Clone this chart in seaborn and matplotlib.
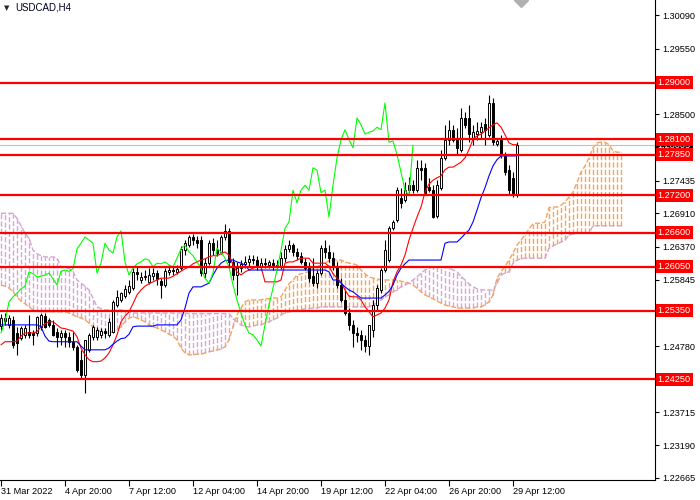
import numpy as np
import pandas as pd
import seaborn as sns
import matplotlib.pyplot as plt
import matplotlib.transforms as mtransforms

sns.set_theme(style="white")
plt.rcParams['font.family'] = ['Liberation Sans', 'DejaVu Sans']

symbol = "USDCAD,H4"

# one label every 16 H4 bars
time_labels = ["31 Mar 2022", "4 Apr 20:00", "7 Apr 12:00", "12 Apr 04:00", "14 Apr 20:00",
               "19 Apr 12:00", "22 Apr 04:00", "26 Apr 20:00", "29 Apr 12:00"]
label_bars = [0, 16, 32, 48, 64, 80, 96, 112, 128]

opens = [1.2510, 1.2523, 1.2512, 1.2520, 1.2499, 1.2491, 1.2496, 1.2501, 1.2499, 1.2499,
         1.2509, 1.2526, 1.2520, 1.2512, 1.2501, 1.2493, 1.2499, 1.2493, 1.2485, 1.2477,
         1.2456, 1.2432, 1.2472, 1.2493, 1.2493, 1.2496, 1.2502, 1.2496, 1.2501, 1.2544,
         1.2552, 1.2558, 1.2565, 1.2571, 1.2597, 1.2584, 1.2589, 1.2581, 1.2590, 1.2595,
         1.2582, 1.2576, 1.2597, 1.2600, 1.2597, 1.2603, 1.2632, 1.2640, 1.2653, 1.2648,
         1.2648, 1.2595, 1.2611, 1.2643, 1.2632, 1.2629, 1.2653, 1.2663, 1.2613, 1.2592,
         1.2603, 1.2610, 1.2613, 1.2618, 1.2616, 1.2605, 1.2611, 1.2608, 1.2611, 1.2608,
         1.2605, 1.2619, 1.2634, 1.2640, 1.2629, 1.2623, 1.2613, 1.2603, 1.2590, 1.2579,
         1.2595, 1.2635, 1.2629, 1.2619, 1.2605, 1.2576, 1.2552, 1.2531, 1.2512, 1.2499,
         1.2496, 1.2488, 1.2478, 1.2504, 1.2544, 1.2568, 1.2600, 1.2616, 1.2667, 1.2680,
         1.2716, 1.2712, 1.2728, 1.2736, 1.2728, 1.2764, 1.2764, 1.2733, 1.2728, 1.2687,
         1.2732, 1.2780, 1.2809, 1.2825, 1.2809, 1.2793, 1.2844, 1.2844, 1.2812, 1.2818,
         1.2821, 1.2834, 1.2817, 1.2868, 1.2802, 1.2809, 1.2785, 1.2760, 1.2748, 1.2720]
highs = [1.2530, 1.2531, 1.2528, 1.2526, 1.2509, 1.2510, 1.2512, 1.2528, 1.2504, 1.2526,
         1.2531, 1.2531, 1.2523, 1.2520, 1.2507, 1.2504, 1.2504, 1.2501, 1.2501, 1.2480,
         1.2472, 1.2488, 1.2499, 1.2512, 1.2509, 1.2507, 1.2507, 1.2523, 1.2552, 1.2568,
         1.2565, 1.2576, 1.2584, 1.2603, 1.2606, 1.2597, 1.2600, 1.2603, 1.2603, 1.2600,
         1.2587, 1.2603, 1.2608, 1.2606, 1.2608, 1.2639, 1.2648, 1.2656, 1.2658, 1.2655,
         1.2655, 1.2619, 1.2648, 1.2651, 1.2648, 1.2656, 1.2674, 1.2667, 1.2619, 1.2613,
         1.2616, 1.2623, 1.2624, 1.2624, 1.2623, 1.2619, 1.2619, 1.2616, 1.2618, 1.2616,
         1.2629, 1.2640, 1.2648, 1.2643, 1.2635, 1.2629, 1.2619, 1.2613, 1.2619, 1.2600,
         1.2640, 1.2648, 1.2640, 1.2629, 1.2613, 1.2587, 1.2568, 1.2539, 1.2520, 1.2509,
         1.2504, 1.2496, 1.2512, 1.2552, 1.2576, 1.2603, 1.2648, 1.2671, 1.2680, 1.2733,
         1.2732, 1.2741, 1.2749, 1.2744, 1.2777, 1.2777, 1.2772, 1.2748, 1.2736, 1.2744,
         1.2793, 1.2833, 1.2841, 1.2833, 1.2828, 1.2860, 1.2853, 1.2865, 1.2833, 1.2837,
         1.2837, 1.2844, 1.2881, 1.2876, 1.2812, 1.2817, 1.2789, 1.2769, 1.2757, 1.2805]
lows = [1.2504, 1.2512, 1.2507, 1.2475, 1.2464, 1.2488, 1.2491, 1.2491, 1.2480, 1.2494,
        1.2504, 1.2507, 1.2509, 1.2494, 1.2477, 1.2480, 1.2477, 1.2477, 1.2472, 1.2436,
        1.2427, 1.2403, 1.2469, 1.2488, 1.2488, 1.2491, 1.2491, 1.2493, 1.2499, 1.2541,
        1.2549, 1.2555, 1.2562, 1.2568, 1.2584, 1.2579, 1.2584, 1.2578, 1.2584, 1.2576,
        1.2555, 1.2573, 1.2592, 1.2592, 1.2594, 1.2600, 1.2624, 1.2637, 1.2640, 1.2635,
        1.2590, 1.2587, 1.2608, 1.2624, 1.2623, 1.2626, 1.2648, 1.2603, 1.2584, 1.2560,
        1.2597, 1.2603, 1.2606, 1.2610, 1.2600, 1.2600, 1.2603, 1.2603, 1.2600, 1.2600,
        1.2602, 1.2613, 1.2629, 1.2623, 1.2616, 1.2610, 1.2600, 1.2581, 1.2574, 1.2571,
        1.2592, 1.2619, 1.2613, 1.2600, 1.2571, 1.2549, 1.2528, 1.2504, 1.2477, 1.2485,
        1.2472, 1.2469, 1.2464, 1.2493, 1.2536, 1.2563, 1.2597, 1.2613, 1.2664, 1.2677,
        1.2700, 1.2709, 1.2724, 1.2724, 1.2725, 1.2744, 1.2720, 1.2725, 1.2684, 1.2684,
        1.2728, 1.2777, 1.2801, 1.2805, 1.2785, 1.2789, 1.2828, 1.2805, 1.2801, 1.2809,
        1.2812, 1.2801, 1.2813, 1.2801, 1.2799, 1.2780, 1.2752, 1.2722, 1.2717, 1.2717]
closes = [1.2523, 1.2518, 1.2523, 1.2480, 1.2483, 1.2507, 1.2507, 1.2496, 1.2496, 1.2525,
          1.2528, 1.2509, 1.2512, 1.2496, 1.2493, 1.2499, 1.2493, 1.2485, 1.2477, 1.2440,
          1.2432, 1.2488, 1.2496, 1.2509, 1.2504, 1.2502, 1.2499, 1.2517, 1.2549, 1.2557,
          1.2563, 1.2570, 1.2574, 1.2597, 1.2594, 1.2589, 1.2590, 1.2592, 1.2595, 1.2586,
          1.2576, 1.2598, 1.2600, 1.2598, 1.2602, 1.2634, 1.2643, 1.2653, 1.2648, 1.2643,
          1.2595, 1.2611, 1.2643, 1.2632, 1.2627, 1.2653, 1.2663, 1.2613, 1.2592, 1.2603,
          1.2610, 1.2613, 1.2618, 1.2616, 1.2605, 1.2611, 1.2610, 1.2613, 1.2608, 1.2605,
          1.2619, 1.2634, 1.2640, 1.2629, 1.2623, 1.2613, 1.2603, 1.2587, 1.2579, 1.2595,
          1.2635, 1.2629, 1.2619, 1.2605, 1.2576, 1.2552, 1.2531, 1.2512, 1.2499, 1.2496,
          1.2488, 1.2478, 1.2512, 1.2544, 1.2571, 1.2600, 1.2632, 1.2667, 1.2677, 1.2728,
          1.2708, 1.2728, 1.2736, 1.2728, 1.2764, 1.2760, 1.2724, 1.2728, 1.2685, 1.2736,
          1.2780, 1.2809, 1.2825, 1.2809, 1.2796, 1.2844, 1.2833, 1.2818, 1.2821, 1.2823,
          1.2829, 1.2825, 1.2868, 1.2805, 1.2807, 1.2785, 1.2757, 1.2728, 1.2720, 1.28005]

tenkan = [1.2480, 1.2485, 1.2485, 1.2485, 1.2486, 1.2494, 1.2499, 1.2499, 1.2499, 1.2501,
          1.2509, 1.2514, 1.2517, 1.2517, 1.2512, 1.2507, 1.2506, 1.2504, 1.2502, 1.2493,
          1.2475, 1.2464, 1.2456, 1.2453, 1.2453, 1.2454, 1.2459, 1.2467, 1.2480, 1.2496,
          1.2517, 1.2526, 1.2533, 1.2546, 1.2560, 1.2568, 1.2574, 1.2578, 1.2581, 1.2584,
          1.2587, 1.2587, 1.2587, 1.2590, 1.2594, 1.2598, 1.2602, 1.2605, 1.2610, 1.2613,
          1.2616, 1.2618, 1.2621, 1.2623, 1.2623, 1.2626, 1.2629, 1.2624, 1.2608, 1.2597,
          1.2592, 1.2597, 1.2600, 1.2603, 1.2605, 1.2605, 1.2581, 1.2581, 1.2581, 1.2581,
          1.2584, 1.2611, 1.2613, 1.2613, 1.2616, 1.2619, 1.2619, 1.2619, 1.2611, 1.2611,
          1.2611, 1.2611, 1.2606, 1.2594, 1.2587, 1.2581, 1.2568, 1.2558, 1.2557, 1.2557,
          1.2552, 1.2541, 1.2533, 1.2525, 1.2528, 1.2531, 1.2539, 1.2552, 1.2581, 1.2597,
          1.2608, 1.2624, 1.2648, 1.2667, 1.2685, 1.2701, 1.2725, 1.2738, 1.2744, 1.2748,
          1.2751, 1.2761, 1.2765, 1.2765, 1.2769, 1.2773, 1.2780, 1.2793, 1.2810, 1.2815,
          1.2818, 1.2823, 1.2828, 1.2833, 1.2836, 1.2829, 1.2817, 1.2804, 1.2801, 1.2801]
kijun = [1.2512, 1.2512, 1.2512, 1.2512, 1.2512, 1.2512, 1.2512, 1.2512, 1.2512, 1.2512,
         1.2509, 1.2494, 1.2486, 1.2485, 1.2485, 1.2485, 1.2485, 1.2485, 1.2485, 1.2485,
         1.2478, 1.2472, 1.2472, 1.2472, 1.2472, 1.2472, 1.2472, 1.2475, 1.2481, 1.2486,
         1.2490, 1.2491, 1.2497, 1.2509, 1.2510, 1.2510, 1.2510, 1.2510, 1.2510, 1.2512,
         1.2512, 1.2512, 1.2512, 1.2512, 1.2512, 1.2520, 1.2539, 1.2563, 1.2573, 1.2573,
         1.2573, 1.2576, 1.2579, 1.2592, 1.2603, 1.2611, 1.2615, 1.2616, 1.2616, 1.2613,
         1.2611, 1.2608, 1.2600, 1.2600, 1.2600, 1.2600, 1.2600, 1.2600, 1.2600, 1.2600,
         1.2600, 1.2600, 1.2600, 1.2600, 1.2600, 1.2600, 1.2600, 1.2600, 1.2600, 1.2600,
         1.2600, 1.2600, 1.2597, 1.2584, 1.2584, 1.2579, 1.2573, 1.2568, 1.2565, 1.2560,
         1.2555, 1.2555, 1.2555, 1.2555, 1.2555, 1.2555, 1.2560, 1.2566, 1.2576, 1.2592,
         1.2603, 1.2610, 1.2616, 1.2616, 1.2616, 1.2616, 1.2616, 1.2616, 1.2616, 1.2616,
         1.2616, 1.2643, 1.2645, 1.2645, 1.2645, 1.2651, 1.2658, 1.2664, 1.2677, 1.2696,
         1.2716, 1.2732, 1.2751, 1.2767, 1.2777, 1.2783, 1.2783, 1.2783, 1.2783, 1.2783]

# senkou spans, 26 bars further right than the candles
span_a = [1.2576, 1.2574, 1.2571, 1.2565, 1.2557, 1.2550, 1.2546, 1.2541, 1.2536, 1.2534,
          1.2533, 1.2533, 1.2533, 1.2533, 1.2533, 1.2533, 1.2533, 1.2531, 1.2528, 1.2525,
          1.2523, 1.2520, 1.2515, 1.2509, 1.2504, 1.2501, 1.2499, 1.2499, 1.2501, 1.2504,
          1.2509, 1.2517, 1.2523, 1.2525, 1.2523, 1.2520, 1.2517, 1.2512, 1.2509, 1.2507,
          1.2504, 1.2501, 1.2497, 1.2494, 1.2488, 1.2475, 1.2467, 1.2464, 1.2464, 1.2465,
          1.2465, 1.2467, 1.2469, 1.2470, 1.2472, 1.2473, 1.2477, 1.2488, 1.2509, 1.2528,
          1.2539, 1.2549, 1.2552, 1.2552, 1.2552, 1.2552, 1.2554, 1.2554, 1.2555, 1.2555,
          1.2557, 1.2568, 1.2578, 1.2584, 1.2592, 1.2594, 1.2595, 1.2598, 1.2603, 1.2606,
          1.2608, 1.2611, 1.2615, 1.2616, 1.2616, 1.2616, 1.2613, 1.2611, 1.2610, 1.2608,
          1.2600, 1.2594, 1.2589, 1.2587, 1.2586, 1.2584, 1.2584, 1.2584, 1.2584, 1.2584,
          1.2582, 1.2581, 1.2579, 1.2576, 1.2571, 1.2565, 1.2560, 1.2557, 1.2554, 1.2550,
          1.2547, 1.2544, 1.2542, 1.2541, 1.2539, 1.2539, 1.2539, 1.2539, 1.2539, 1.2541,
          1.2541, 1.2544, 1.2549, 1.2560, 1.2587, 1.2597, 1.2606, 1.2616, 1.2627, 1.2640,
          1.2648, 1.2656, 1.2666, 1.2674, 1.2675, 1.2675, 1.2677, 1.2700, 1.2701, 1.2701,
          1.2704, 1.2709, 1.2717, 1.2725, 1.2740, 1.2757, 1.2767, 1.2780, 1.2796, 1.2804,
          1.2805, 1.2805, 1.2801, 1.2791, 1.2789, 1.2789]
span_b = [1.2691, 1.2691, 1.2691, 1.2691, 1.2683, 1.2671, 1.2659, 1.2651, 1.2632, 1.2626,
          1.2623, 1.2621, 1.2621, 1.2621, 1.2619, 1.2605, 1.2603, 1.2602, 1.2598, 1.2584,
          1.2579, 1.2574, 1.2568, 1.2555, 1.2541, 1.2538, 1.2536, 1.2536, 1.2536, 1.2536,
          1.2536, 1.2534, 1.2533, 1.2531, 1.2531, 1.2531, 1.2531, 1.2531, 1.2531, 1.2531,
          1.2531, 1.2531, 1.2531, 1.2531, 1.2531, 1.2531, 1.2531, 1.2530, 1.2530, 1.2530,
          1.2530, 1.2530, 1.2530, 1.2530, 1.2530, 1.2530, 1.2530, 1.2530, 1.2523, 1.2517,
          1.2512, 1.2509, 1.2509, 1.2510, 1.2512, 1.2512, 1.2515, 1.2517, 1.2520, 1.2523,
          1.2528, 1.2531, 1.2533, 1.2534, 1.2536, 1.2536, 1.2538, 1.2538, 1.2539, 1.2539,
          1.2541, 1.2541, 1.2541, 1.2541, 1.2541, 1.2541, 1.2541, 1.2541, 1.2541, 1.2541,
          1.2541, 1.2541, 1.2541, 1.2544, 1.2547, 1.2552, 1.2557, 1.2560, 1.2565, 1.2568,
          1.2573, 1.2576, 1.2579, 1.2584, 1.2589, 1.2595, 1.2600, 1.2603, 1.2605, 1.2605,
          1.2605, 1.2605, 1.2603, 1.2600, 1.2597, 1.2590, 1.2584, 1.2578, 1.2573, 1.2570,
          1.2568, 1.2568, 1.2568, 1.2568, 1.2579, 1.2592, 1.2595, 1.2597, 1.2611, 1.2616,
          1.2618, 1.2619, 1.2619, 1.2619, 1.2619, 1.2619, 1.2619, 1.2635, 1.2639, 1.2642,
          1.2645, 1.2648, 1.2656, 1.2658, 1.2659, 1.2659, 1.2659, 1.2659, 1.2671, 1.2671,
          1.2671, 1.2671, 1.2671, 1.2671, 1.2671, 1.2671]

levels = [1.2900, 1.2810, 1.2785, 1.2720, 1.2660, 1.2605, 1.2535, 1.2425]
price_ticks = [1.30090, 1.29550, 1.29025, 1.28500, 1.27960, 1.27435, 1.26910, 1.26370,
               1.25845, 1.25305, 1.24780, 1.24250, 1.23715, 1.23190, 1.22665]
# these scale labels sit under the level / bid boxes in the terminal
hidden_ticks = [1.29025, 1.27960, 1.25305, 1.24250]
bid = 1.28005

n = len(closes)
bars = pd.DataFrame({"bar": np.arange(n), "open": opens, "high": highs, "low": lows,
                     "close": closes, "tenkan": tenkan, "kijun": kijun})
cloud = pd.DataFrame({"bar": np.arange(len(span_a)), "a": span_a, "b": span_b})
cloud["lo"] = cloud[["a", "b"]].min(axis=1)
cloud["hi"] = cloud[["a", "b"]].max(axis=1)
chikou = pd.DataFrame({"bar": np.arange(n - 26), "close": closes[26:]})

fig = plt.figure(figsize=(7, 5), dpi=100)
ax = fig.add_axes([0, 20 / 500, 655 / 700, 480 / 500])

# cloud: dotted histogram between the spans
orange = "#f4a460"
plum = "#d4a6d4"
bull = cloud[cloud["a"] >= cloud["b"]]
bear = cloud[cloud["a"] < cloud["b"]]
ax.vlines(bull["bar"], bull["lo"], bull["hi"], colors=orange, linestyles="dashed",
          lw=1.0, zorder=1)
ax.vlines(bear["bar"], bear["lo"], bear["hi"], colors=plum, linestyles="dashed",
          lw=1.0, zorder=1)
sns.lineplot(data=cloud, x="bar", y="a", ax=ax, color=orange, lw=1.0,
             linestyle="--", legend=False, zorder=1)
sns.lineplot(data=cloud, x="bar", y="b", ax=ax, color=plum, lw=1.0,
             linestyle="--", legend=False, zorder=1)

ax.axhline(bid, color="#c0c0c0", lw=0.8, zorder=1.5)

# candles
ax.vlines(bars["bar"], bars["low"], bars["high"], color="black", lw=0.8, zorder=2)
body_lo = bars[["open", "close"]].min(axis=1)
body_h = (bars["close"] - bars["open"]).abs()
fc = np.where(bars["close"] >= bars["open"], "white", "black")
ax.bar(bars["bar"], body_h, bottom=body_lo, width=0.7, color=fc,
       edgecolor="black", linewidth=0.7, zorder=3)

sns.lineplot(data=bars, x="bar", y="tenkan", ax=ax, color="red", lw=0.8, zorder=4)
sns.lineplot(data=bars, x="bar", y="kijun", ax=ax, color="blue", lw=0.8, zorder=4)
sns.lineplot(data=chikou, x="bar", y="close", ax=ax, color="#00ff00", lw=0.8, zorder=4)

trans = mtransforms.blended_transform_factory(ax.transAxes, ax.transData)
ax.text(1.004, bid, f"{bid:.5f}", transform=trans, ha="left", va="center", fontsize=6.6,
        color="white", zorder=7, clip_on=False,
        bbox=dict(boxstyle="square,pad=0.22", fc="black", ec="none"))
for lv in levels:
    ax.axhline(lv, color="red", lw=1.6, zorder=6)
    ax.text(1.004, lv, f"{lv:.5f}", transform=trans, ha="left", va="center", fontsize=6.6,
            color="white", zorder=8, clip_on=False,
            bbox=dict(boxstyle="square,pad=0.22", fc="red", ec="none"))

ax.set_xlim(-0.25, 163.5)
ax.set_ylim(1.22632, 1.30331)
ax.set_xlabel("")
ax.set_ylabel("")
ax.set_yticks(price_ticks)
ax.set_yticklabels(["" if t in hidden_ticks else f"{t:.5f}" for t in price_ticks])
ax.set_xticks(label_bars)
ax.set_xticklabels(time_labels, ha="left")
ax.yaxis.tick_right()
ax.tick_params(axis="y", right=True, left=False, labelright=True, labelleft=False,
               direction="out", length=3, width=0.8, pad=2, labelsize=6.6, colors="black")
ax.tick_params(axis="x", bottom=True, direction="out", length=4, width=0.8, pad=1,
               labelsize=6.6, colors="black")
for s in ["left", "top"]:
    ax.spines[s].set_visible(False)
for s in ["right", "bottom"]:
    ax.spines[s].set_color("black")
    ax.spines[s].set_linewidth(0.8)
ax.set_facecolor("white")

# chart shift marker at top
ax.plot([130.0], [1.30331], marker="D", ms=7, color="#b0b0b0", clip_on=True, zorder=9)

fig.text(4 / 700, 1 - 8 / 500, "\u25bc", fontsize=5, family="DejaVu Sans", va="center")
fig.text(15 / 700, 1 - 8 / 500, symbol, fontsize=7, va="center", color="#000020")

fig.savefig("out.png", dpi=100, facecolor="white")
